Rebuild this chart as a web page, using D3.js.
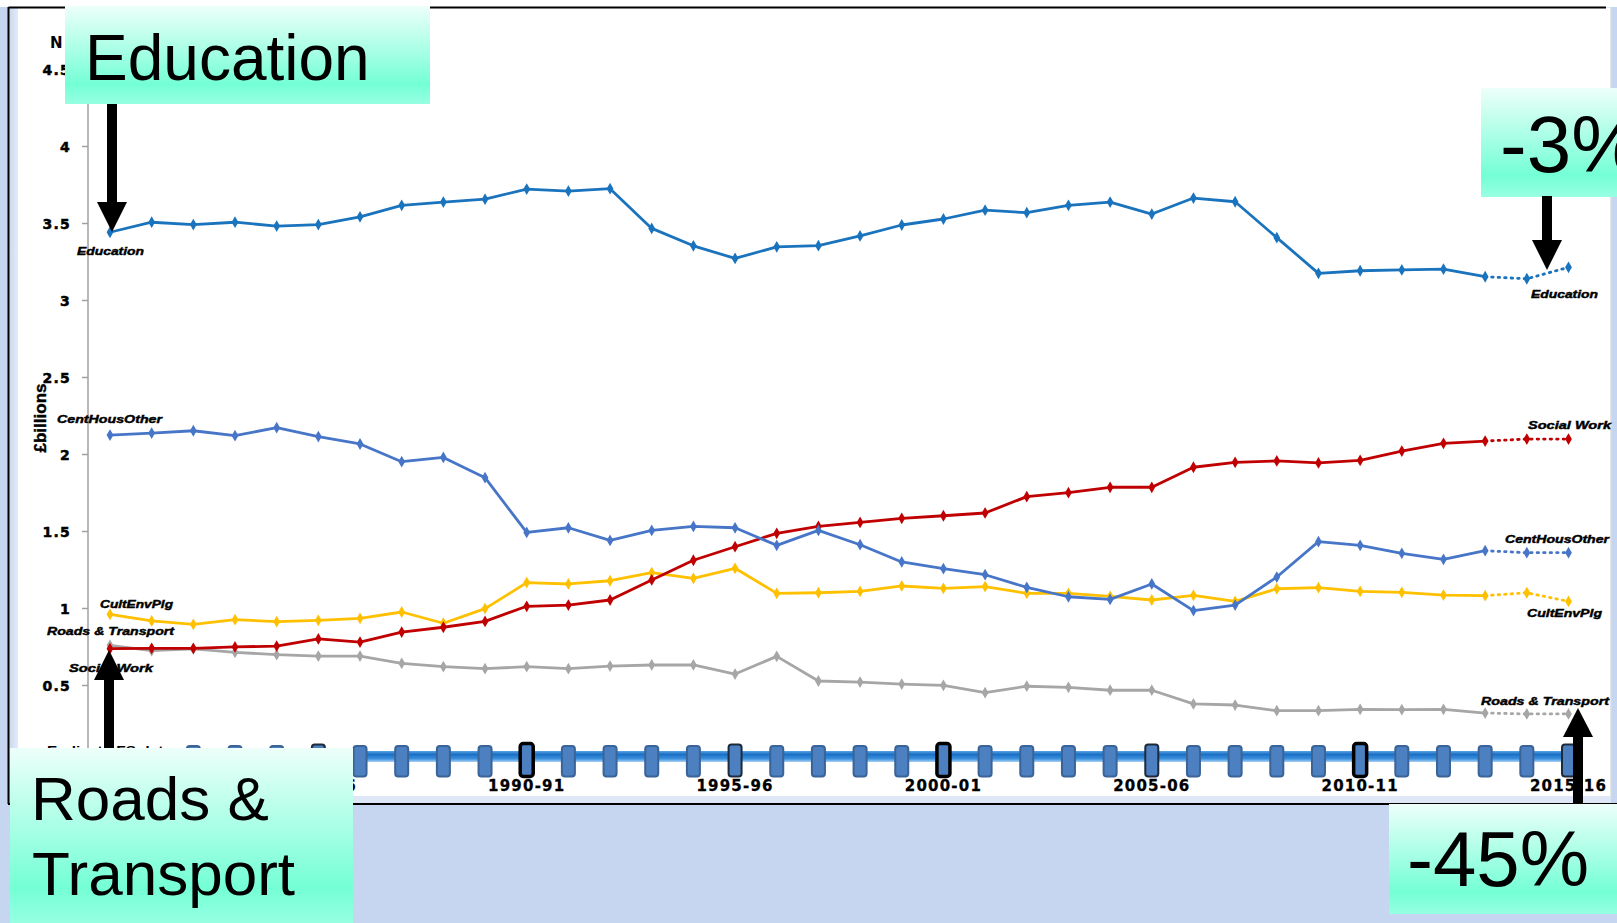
<!DOCTYPE html>
<html><head><meta charset="utf-8">
<script src="https://cdn.jsdelivr.net/npm/d3@7"></script>
<style>html,body{margin:0;padding:0;background:#c6d6f0;overflow:hidden}</style>
</head><body><svg id="c" width="1617" height="923"></svg>
<script>
// ---------- data ----------
const years = ["1980-81","1981-82","1982-83","1983-84","1984-85","1985-86","1986-87","1987-88","1988-89","1989-90",
  "1990-91","1991-92","1992-93","1993-94","1994-95","1995-96","1996-97","1997-98","1998-99","1999-00",
  "2000-01","2001-02","2002-03","2003-04","2004-05","2005-06","2006-07","2007-08","2008-09","2009-10",
  "2010-11","2011-12","2012-13","2013-14","2014-15","2015-16"];
const education = [3.44,3.505,3.49,3.505,3.48,3.49,3.54,3.615,3.636,3.655,3.72,3.707,3.723,3.465,3.352,3.27,3.345,3.353,3.416,
  3.487,3.526,3.583,3.567,3.615,3.636,3.558,3.662,3.638,3.405,3.173,3.19,3.195,3.2,3.151,3.138,3.212];
const centHousOther = [2.123,2.136,2.151,2.119,2.171,2.113,2.065,1.95,1.978,1.846,1.491,1.521,1.439,1.504,1.53,1.521,1.407,1.504,
  1.411,1.299,1.255,1.216,1.134,1.073,1.056,1.156,0.983,1.019,1.201,1.431,1.407,1.355,1.316,1.372,1.359,1.359];
const cultEnvPlg = [0.959,0.916,0.894,0.924,0.911,0.92,0.933,0.974,0.901,0.996,1.165,1.156,1.177,1.229,1.193,1.258,1.095,1.099,
  1.108,1.143,1.128,1.139,1.095,1.095,1.076,1.052,1.082,1.043,1.125,1.132,1.108,1.102,1.084,1.08,1.099,1.043];
const socialWork = [0.736,0.738,0.738,0.747,0.753,0.799,0.779,0.844,0.875,0.913,1.011,1.019,1.052,1.182,1.31,1.398,1.485,1.53,
  1.556,1.582,1.599,1.617,1.723,1.749,1.784,1.784,1.914,1.946,1.955,1.942,1.959,2.019,2.069,2.084,2.097,2.097];
const roadsTransport = [0.758,0.723,0.734,0.712,0.697,0.688,0.688,0.641,0.619,0.606,0.619,0.606,0.623,0.63,0.63,0.571,0.686,0.526,
  0.519,0.506,0.498,0.45,0.492,0.485,0.466,0.466,0.377,0.37,0.333,0.333,0.342,0.34,0.342,0.318,0.312,0.312];
const seriesNames = ["Education","CentHousOther","CultEnvPlg","Social Work","Roads & Transport"];
const seriesColors = ["#1a73bd","#4775c7","#ffc000","#c00000","#a6a6a6"];
const yTicks = [0.5,1,1.5,2,2.5,3,3.5,4,4.5];
const xLabelYears = ["1985-86","1990-91","1995-96","2000-01","2005-06","2010-11","2015-16"];
const thickMarkerYears = ["1990-91","2000-01","2010-11"];
const firstTimelineIndex = 2;
const projectedFrom = "2013-14";

// ---------- setup ----------
const svg = d3.select("#c");
const x = d3.scalePoint().domain(years).range([110, 1568.5]);
const y = d3.scaleLinear().domain([0, 4.5]).range([762, 69]);
const defs = svg.append("defs");

const g1 = defs.append("linearGradient").attr("id","mint").attr("x1",0).attr("y1",0).attr("x2",0).attr("y2",1);
g1.append("stop").attr("offset","0").attr("stop-color","#edfffa");
g1.append("stop").attr("offset","0.8").attr("stop-color","#74ffd5");
g1.append("stop").attr("offset","1").attr("stop-color","#97ffe2");
const g2 = defs.append("linearGradient").attr("id","bar").attr("x1",0).attr("y1",0).attr("x2",0).attr("y2",1);
g2.append("stop").attr("offset","0").attr("stop-color","#5aa4e6");
g2.append("stop").attr("offset","0.3").attr("stop-color","#1a6fc4");
g2.append("stop").attr("offset","0.7").attr("stop-color","#3a8fdc");
g2.append("stop").attr("offset","1").attr("stop-color","#a9d2f6");
const g3 = defs.append("linearGradient").attr("id","leftstrip").attr("x1",0).attr("y1",0).attr("x2",1).attr("y2",0);
g3.append("stop").attr("offset","0").attr("stop-color","#c9d8f1");
g3.append("stop").attr("offset","1").attr("stop-color","#e3ebf8");

// background & frame
svg.append("rect").attr("x",0).attr("y",0).attr("width",1617).attr("height",923).attr("fill","#c6d6f0");
svg.append("rect").attr("x",0).attr("y",0).attr("width",1617).attr("height",7).attr("fill","#ffffff");
svg.append("rect").attr("x",9).attr("y",7).attr("width",1602).attr("height",796).attr("fill","#dde7f6");
svg.append("rect").attr("x",9).attr("y",7).attr("width",9).attr("height",796).attr("fill","url(#leftstrip)");
svg.append("rect").attr("x",18).attr("y",8).attr("width",1593).attr("height",788).attr("fill","#ffffff");
svg.append("line").attr("x1",1611).attr("x2",1611).attr("y1",8).attr("y2",796).attr("stroke","#dcdcdc").attr("stroke-width",1.5);
svg.append("line").attr("x1",8.5).attr("x2",1606).attr("y1",7.5).attr("y2",7.5).attr("stroke","#000").attr("stroke-width",2);
svg.append("line").attr("x1",8.5).attr("x2",8.5).attr("y1",7).attr("y2",804).attr("stroke","#000").attr("stroke-width",2);
svg.append("line").attr("x1",8).attr("x2",1617).attr("y1",804).attr("y2",804).attr("stroke","#000").attr("stroke-width",2);

// title (only its first letter shows, the rest lies under the Education box)
svg.append("text").attr("x",50).attr("y",48).attr("font-family","DejaVu Sans").attr("font-weight","bold")
  .attr("font-size",15).attr("fill","#000").text("N");

// y axis
svg.append("line").attr("x1",88).attr("x2",88).attr("y1",y(4.5)-6).attr("y2",y(0)).attr("stroke","#a0a0a0").attr("stroke-width",1.5);
const yAxis = d3.axisLeft(y).tickValues(yTicks).tickSize(6).tickFormat(d => String(d));
const ya = svg.append("g").attr("transform","translate(88,0)").call(yAxis);
ya.select(".domain").remove();
ya.selectAll(".tick line").attr("stroke","#a0a0a0").attr("stroke-width",1.5);
ya.selectAll(".tick text").attr("x",-17).attr("dy","0.36em").attr("font-family","DejaVu Sans").attr("font-weight","bold")
  .attr("font-size",14).attr("letter-spacing",1.2).attr("fill","#000").attr("stroke","#000").attr("stroke-width",0.5);
svg.append("text").attr("transform","translate(46,418) rotate(-90)").attr("text-anchor","middle")
  .attr("font-family","Liberation Sans").attr("font-weight","bold").attr("font-size",17)
  .attr("stroke","#000").attr("stroke-width",0.4).text("£billions");

// series
const allSeries = [education, centHousOther, cultEnvPlg, socialWork, roadsTransport].map((vals,i)=>({
  name: seriesNames[i], color: seriesColors[i],
  data: years.map((yr,j)=>({year:yr, v: vals[j]}))
}));
const drawOrder = [4,2,3,1,0];
const line = d3.line().x(d=>x(d.year)).y(d=>y(d.v));
const projIdx = years.indexOf(projectedFrom);
drawOrder.forEach(k=>{
  const s = allSeries[k];
  const g = svg.append("g");
  g.append("path").attr("d", line(s.data.slice(0, projIdx+1))).attr("fill","none").attr("stroke",s.color)
    .attr("stroke-width",2.8).attr("stroke-linejoin","round");
  g.append("path").attr("d", line(s.data.slice(projIdx))).attr("fill","none").attr("stroke",s.color)
    .attr("stroke-width",2.8).attr("stroke-dasharray","1.5,5").attr("stroke-linecap","round");
  g.selectAll("path.m").data(s.data).enter().append("path").attr("class","m")
    .attr("d", d3.symbol(d3.symbolDiamond, 40))
    .attr("transform", d=>`translate(${x(d.year)},${y(d.v)})`).attr("fill",s.color);
});

// series labels
const labelRows = [
  ["Education",77,255,67],["CentHousOther",57,423,105],["CultEnvPlg",100,608,73],
  ["Roads & Transport",47,635,127],["Social Work",69,672,84],
  ["Education",1531,298,67],["Social Work",1528,429,83],["CentHousOther",1505,543,104],
  ["CultEnvPlg",1527,617,75],["Roads & Transport",1481,705,128]
];
svg.append("g").selectAll("text").data(labelRows).enter().append("text")
  .attr("x",d=>d[1]).attr("y",d=>d[2]).attr("textLength",d=>d[3]).attr("lengthAdjust","spacingAndGlyphs")
  .attr("font-family","Liberation Sans").attr("font-style","italic").attr("font-weight","900")
  .attr("font-size",11.5).attr("fill","#000").attr("stroke","#000").attr("stroke-width",0.45).text(d=>d[0]);

// timeline
svg.append("text").attr("x",47).attr("y",755).attr("textLength",125).attr("lengthAdjust","spacingAndGlyphs")
  .attr("font-family","Liberation Sans").attr("font-weight","bold").attr("font-size",13).text("Earliest LFS data");
const tlYears = years.slice(firstTimelineIndex);
svg.append("rect").attr("x",x(tlYears[0])-8).attr("y",751).attr("width",x(years[years.length-1])+14-(x(tlYears[0])-8))
  .attr("height",11).attr("fill","url(#bar)");
svg.append("g").selectAll("rect").data(tlYears).enter().append("rect")
  .attr("x",d=>x(d)-6.5).attr("width",13)
  .attr("y",d=> thickMarkerYears.includes(d) ? 743.5 : (xLabelYears.includes(d) ? 744.5 : 746))
  .attr("height",d=> thickMarkerYears.includes(d) ? 33 : (xLabelYears.includes(d) ? 32 : 30.5))
  .attr("rx",3).attr("fill","#4d80c0")
  .attr("stroke",d=> thickMarkerYears.includes(d) ? "#000" : (xLabelYears.includes(d) ? "#1c2a3c" : "#3a6397"))
  .attr("stroke-width",d=> thickMarkerYears.includes(d) ? 3.5 : 2);
const xa = svg.append("g");
xa.selectAll("text").data(xLabelYears).enter().append("text")
  .attr("x",d=>x(d)).attr("y",791).attr("text-anchor","middle")
  .attr("font-family","DejaVu Sans").attr("font-weight","bold").attr("font-size",15).attr("letter-spacing",1.2)
  .attr("fill","#000").attr("stroke","#000").attr("stroke-width",0.3).text(d=>d);

// annotation boxes
function box(x0,y0,w,h){ svg.append("rect").attr("x",x0).attr("y",y0).attr("width",w).attr("height",h).attr("fill","url(#mint)"); }
function bigText(t,x0,y0,fs){ svg.append("text").attr("x",x0).attr("y",y0).attr("font-family","Liberation Sans")
  .attr("font-size",fs).attr("fill","#000").text(t); }
function arrowDown(cx, yTop, headTop, tip){
  svg.append("rect").attr("x",cx-5).attr("y",yTop).attr("width",10).attr("height",headTop-yTop+1).attr("fill","#000");
  svg.append("path").attr("d",`M${cx-15},${headTop} L${cx+15},${headTop} L${cx},${tip} Z`).attr("fill","#000");
}
function arrowUp(cx, yBottom, headBottom, tip){
  svg.append("rect").attr("x",cx-5).attr("y",headBottom-1).attr("width",10).attr("height",yBottom-headBottom+1).attr("fill","#000");
  svg.append("path").attr("d",`M${cx-15},${headBottom} L${cx+15},${headBottom} L${cx},${tip} Z`).attr("fill","#000");
}
box(65,6,365,98); bigText("Education",85,80,64);
arrowDown(112,104,202,232);
box(1481,88,140,109); bigText("-3%",1500,172,80);
arrowDown(1547,196,240,270);
box(10,748,343,175); bigText("Roads &",31,820,62); bigText("Transport",32,895,62);
arrowUp(109,748,680,650);
box(1389,804,228,110); bigText("-45%",1407,886,78);
arrowUp(1578,804,737,708);
</script></body></html>
